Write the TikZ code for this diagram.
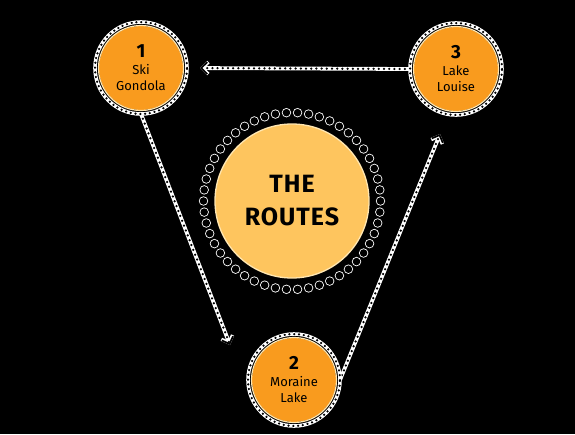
\documentclass[tikz,border=0pt]{standalone}
\usepackage{fontspec}
\setmainfont{Fira Sans}
\usetikzlibrary{arrows.meta}
\definecolor{orangeF}{HTML}{F99B1E}
\definecolor{yellowF}{HTML}{FEC55E}
\definecolor{paleF}{HTML}{FFE6B0}
\begin{document}
\begin{tikzpicture}[x=1pt,y=-1pt,
 stopnode/.style={circle, fill=orangeF, minimum size=84pt, inner sep=0pt, outer sep=4pt, align=center, font=\fontsize{13}{16}\selectfont, text=black},
 hubnode/.style={circle, fill=yellowF, minimum size=154pt, inner sep=0pt, align=center, font=\bfseries\fontsize{25}{33}\selectfont\addfontfeature{LetterSpace=4}},
 ringW/.style={draw=white, line width=3.6pt},
 ringB/.style={draw=black, line width=2.5pt, line cap=round, dash pattern=on 0pt off 4.8pt},
 conW/.style={draw=white, line width=3.8pt, -{Straight Barb[length=6pt,width=12pt,line width=3.4pt]}},
 conB/.style={draw=black, line width=2.5pt, line cap=round, dash pattern=on 0pt off 5.2pt, -{Straight Barb[length=6pt,width=12pt,line width=1.7pt]}}
]
\fill[black] (0,0) rectangle (575,434);
\useasboundingbox (0,0) rectangle (575,434);

% hub dotted ring
\foreach \i in {0,...,49} {
  \fill[white] (292,201) ++(\i*7.2:88.5pt) circle[radius=4.7pt];
  \fill[black] (292,201) ++(\i*7.2:88.5pt) circle[radius=3.8pt];
}
\node[hubnode] (hub) at (292,201) {THE\\ROUTES};
\draw[paleF, line width=1.3pt] (hub.center) circle[radius=77pt];

% stops
\node[stopnode] (n1) at (141,68) {{\bfseries\fontsize{19}{22}\selectfont 1}\\[1pt]Ski\\Gondola};
\node[stopnode] (n2) at (294,380) {{\bfseries\fontsize{19}{22}\selectfont 2}\\[1pt]Moraine\\Lake};
\node[stopnode] (n3) at (456,69) {{\bfseries\fontsize{19}{22}\selectfont 3}\\[1pt]Lake\\Louise};

\coordinate (e12) at (230,345);
\coordinate (e23) at (440,134);

% connectors
\draw[conW] (n1.south) -- (e12);
\draw[conB] (n1.south) -- (e12);
\draw[conW] (n2.east) -- (e23);
\draw[conB] (n2.east) -- (e23);
\draw[conW, shorten >=13pt] (n3.west) -- (n1.east);
\draw[conB, shorten >=13pt] (n3.west) -- (n1.east);

% rings of stops
\foreach \n in {n1,n2,n3} {
  \draw[paleF, line width=1.2pt] (\n.center) circle[radius=42.5pt];
  \draw[ringW] (\n.center) circle[radius=46pt];
  \draw[ringB] (\n.center) circle[radius=46pt];
}
\end{tikzpicture}
\end{document}
